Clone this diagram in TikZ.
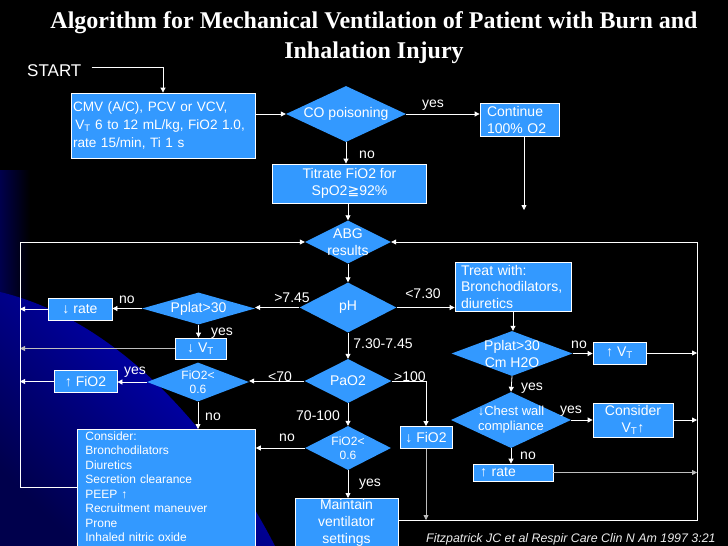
\documentclass[tikz,border=0pt]{standalone}
\usepackage{fontspec}
\setmainfont{Liberation Sans}
\newfontfamily\titlefont{Liberation Serif}
\newfontfamily\symfont{DejaVu Sans}
\usetikzlibrary{shapes.geometric,arrows.meta}
\definecolor{boxblue}{RGB}{51,153,255}
\definecolor{lgray}{RGB}{190,190,190}
\begin{document}
\begin{tikzpicture}[x=1pt,y=-1pt,
  box/.style={draw=white,line width=0.8pt,fill=boxblue,text=white,font=\fontsize{14}{17}\selectfont,inner sep=0pt,align=center},
  dia/.style={diamond,fill=boxblue,inner sep=0pt},
  dtxt/.style={text=white,align=center,font=\fontsize{14}{17}\selectfont,inner sep=0pt},
  lab/.style={text=white,font=\fontsize{14}{16}\selectfont,inner sep=0pt},
  arr/.style={draw=white,line width=0.8pt,-{Triangle[length=5pt,width=5pt]}},
  ln/.style={draw=white,line width=0.8pt},
]
\useasboundingbox (0,0) rectangle (728,546);
\clip (0,0) rectangle (728,546);
\fill[black] (0,0) rectangle (728,546);
% background swoosh
\shade[left color=blue!30!black, right color=black] (0,170) rectangle (30,320);
\shade[top color=blue!80!black, bottom color=blue!30!black, shading angle=-45]
  (0,292) .. controls (110,318) and (210,420) .. (275,546) -- (0,546) -- cycle;

% title
\node[text=white, align=center, font=\titlefont\bfseries\fontsize{24}{30}\selectfont] (title) at (374,38)
  {Algorithm for Mechanical Ventilation of Patient with Burn and\\Inhalation Injury};

% start
\node[lab, font=\fontsize{17}{20}\selectfont, anchor=west] (start) at (27,71) {START};
\node[box, minimum width=184, minimum height=65, text width=180, align=left, font=\fontsize{13.6}{18}\selectfont] (cmv) at (163,125.5)
  {CMV (A/C), PCV or VCV,\\ \,V\textsubscript{T} 6 to 12 mL/kg, FiO2 1.0,\\rate 15/min, Ti 1 s};
\draw[arr] (start.east) ++(10,-4) -| (cmv.north);

% CO poisoning
\node[dia, minimum width=120, minimum height=56] (co) at (346,114) {};
\node[dtxt] at (co) {CO poisoning};
\draw[arr] (cmv.east |- co.west) -- (co.west);

\node[box, minimum width=79, minimum height=33, text width=65, align=left] (cont) at (519.5,119.5) {Continue\\100\% O2};
\draw[arr] (co.east) -- (cont.west |- co.east);
\node[lab] at (433,105) {yes};
\coordinate (contEnd) at (524,210);
\draw[arr] (cont.south -| contEnd) -- (contEnd);

\node[box, minimum width=154, minimum height=39] (tit) at (349.5,183.5) {Titrate FiO2 for\\SpO2{\symfont ≧}92\%};
\draw[arr] (co.south) -- (co.south |- tit.north);
\node[lab] at (367,155) {no};

% ABG
\node[dia, minimum width=86, minimum height=43] (abg) at (348,242) {};
\node[dtxt] at (abg) {ABG\\results};
\draw[arr] (abg.north |- tit.south) -- (abg.north);

% pH
\node[dia, minimum width=97, minimum height=50] (ph) at (348,307.5) {};
\node[dtxt] at (ph) {pH};
\draw[arr] (abg.south) -- (ph.north);

% Pplat left
\node[dia, minimum width=113, minimum height=32] (pp1) at (198.5,308.5) {};
\node[dtxt] at (pp1) {Pplat>30};
\draw[arr] (ph.west) -- (pp1.east |- ph.west);
\node[lab] at (292,298) {>7.45};

\coordinate (LT) at (20,242);
\coordinate (LB) at (20,487);

\node[box, minimum width=64, minimum height=22] (rate1) at (80,309) {↓ rate};
\draw[arr] (pp1.west) -- (rate1.east |- pp1.west);
\node[lab] at (127,300) {no};
\draw[arr] (rate1.west) -- (rate1.west -| LT);

\node[box, minimum width=51, minimum height=21] (vt1) at (200.5,348.5) {↓ V\textsubscript{T}};
\draw[arr] (pp1.south) -- (pp1.south |- vt1.north);
\node[lab] at (222,333) {yes};
\draw[arr, draw=lgray] (vt1.west) -- (vt1.west -| LT);

% PaO2
\node[dia, minimum width=87, minimum height=44] (pao) at (348,381) {};
\node[dtxt] at (pao) {PaO2};
\draw[arr] (ph.south) -- (pao.north);
\node[lab] at (383,344) {7.30-7.45};

\node[dia, minimum width=102, minimum height=39] (fi1) at (198,382) {};
\node[dtxt, font=\fontsize{12}{14}\selectfont] at (fi1) {FiO2<\\0.6};
\draw[arr] (pao.west) -- (fi1.east |- pao.west);
\node[lab] at (280,377) {<70};

\node[box, minimum width=63, minimum height=22] (fio2up) at (85.5,381.5) {↑ FiO2};
\draw[arr] (fi1.west) -- (fio2up.east |- fi1.west);
\node[lab] at (135,372) {yes};
\draw[arr] (fio2up.west) -- (fio2up.west -| LT);

\node[box, anchor=north west, minimum width=178, text width=162, align=left, inner ysep=2pt, font=\fontsize{12}{14.5}\selectfont] (cons) at (77,429)
  {Consider:\\Bronchodilators\\Diuretics\\Secretion clearance\\PEEP ↑\\Recruitment maneuver\\Prone\\Inhaled nitric oxide\rule[-12pt]{0pt}{12pt}};
\draw[arr] (fi1.south) -- (fi1.south |- cons.north);
\node[lab] at (213,417) {no};
\draw[arr] (cons.west |- LB) -- (LB) -- (LT) -- (abg.west);

% lower FiO2
\node[dia, minimum width=86, minimum height=44] (fi2) at (348,448) {};
\node[dtxt, font=\fontsize{12}{14}\selectfont] at (fi2) {FiO2<\\0.6};
\draw[arr] (pao.south) -- (fi2.north);
\node[lab] at (318,416) {70-100};
\draw[arr] (fi2.west) -- (cons.east |- fi2.west);
\node[lab] at (287,438) {no};

\node[box, anchor=north, minimum width=103, text width=97, inner ysep=1pt] (maint) at (346.5,498)
  {Maintain\\ventilator\\settings\rule[-10pt]{0pt}{10pt}};
\draw[arr] (fi2.south) -- (fi2.south |- maint.north);
\node[lab] at (370,484) {yes};

\node[box, minimum width=52, minimum height=22] (fio2dn) at (426,437.5) {↓ FiO2};
\draw[arr] (pao.east) -| (fio2dn.north);
\node[lab] at (410,377) {>100};

\coordinate (RT) at (697,242);
\coordinate (RB) at (697,520);
\draw[arr] (maint.east |- RB) -- (RB) -- (RT) -- (abg.east);
\draw[arr, draw=lgray] (fio2dn.south) -- (fio2dn.south |- RB);

% right branch
\node[box, minimum width=116, minimum height=49, text width=104, align=left, font=\fontsize{14}{16.5}\selectfont] (treat) at (513,286.5)
  {Treat with:\\Bronchodilators,\\diuretics};
\draw[arr] (ph.east) -- (treat.west |- ph.east);
\node[lab] at (423,294) {<7.30};

\node[dia, minimum width=121, minimum height=45] (pp2) at (512,353.5) {};
\node[dtxt] at (pp2) {Pplat>30\\Cm H2O};
\draw[arr] (treat.south) -- (treat.south |- pp2.north);

\node[box, minimum width=53, minimum height=22] (vt2) at (619.5,353) {↑ V\textsubscript{T}};
\draw[arr] (pp2.east) -- (vt2.west |- pp2.east);
\node[lab] at (579,345) {no};
\draw[arr] (vt2.east) -- (vt2.east -| RT);

\node[dia, minimum width=120, minimum height=56] (chest) at (511,420) {};
\node[dtxt, font=\fontsize{13}{15}\selectfont] at (chest) {↓Chest wall\\compliance};
\draw[arr] (pp2.south) -- (chest.north);
\node[lab] at (532,388) {yes};

\node[box, minimum width=80, minimum height=34] (cvt) at (633,420) {Consider\\V\textsubscript{T}↑};
\draw[arr] (chest.east) -- (cvt.west |- chest.east);
\node[lab] at (571,411) {yes};
\draw[arr] (cvt.east) -- (cvt.east -| RT);

\node[box, minimum width=80, minimum height=17, text width=66, align=left] (rate2) at (513,472.5) {↑ rate};
\draw[arr] (chest.south) -- (chest.south |- rate2.north);
\node[lab] at (528,456) {no};
\draw[arr, draw=lgray] (rate2.east) -- (rate2.east -| RT);

% citation
\node[text=white!85!gray, font=\itshape\fontsize{12.4}{14}\selectfont, anchor=west, inner sep=0pt] (cite) at (426,539)
  {Fitzpatrick JC et al Respir Care Clin N Am 1997 3:21};
\end{tikzpicture}
\end{document}
